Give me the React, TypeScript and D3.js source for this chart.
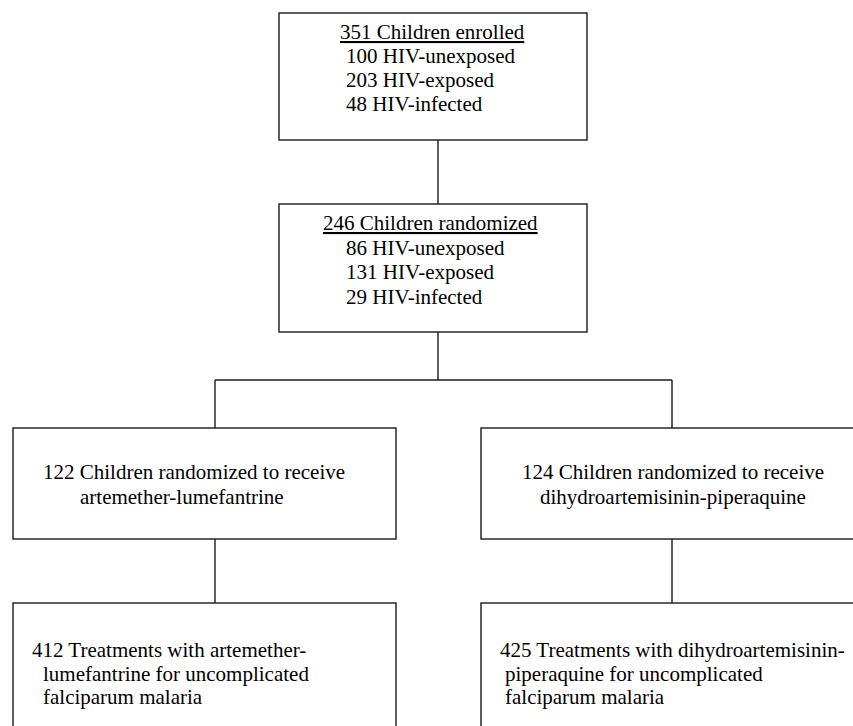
import * as d3 from 'd3';

// Flow of the trial: enrolment -> randomisation -> arms -> treatments
const ENROLLED_TITLE = '351 Children enrolled';
const ENROLLED_GROUPS = ['100 HIV-unexposed', '203 HIV-exposed', '48 HIV-infected'];

const RANDOMIZED_TITLE = '246 Children randomized';
const RANDOMIZED_GROUPS = ['86 HIV-unexposed', '131 HIV-exposed', '29 HIV-infected'];

const ARM_LABELS: string[][] = [
  ['122 Children randomized to receive', 'artemether-lumefantrine'],
  ['124 Children randomized to receive', 'dihydroartemisinin-piperaquine'],
];

const TREATMENT_LABELS: string[][] = [
  ['412 Treatments with artemether-', 'lumefantrine for uncomplicated', 'falciparum malaria'],
  ['425 Treatments with dihydroartemisinin-', 'piperaquine for uncomplicated', 'falciparum malaria'],
];

const W = 853;
const H = 726;
const FONT = "'Liberation Serif', 'Times New Roman', 'DejaVu Serif', serif";
const FS = 21;
const LINE = 24;

// rows (top, bottom) of each level of the chart
const rows = {
  enrolled: [13, 140],
  randomized: [204, 332],
  arm: [428, 539],
  treatment: [603, 780],
};
const bracketY = 380;

// column centres for the two arms
const col = d3.scalePoint<number>().domain([0, 1]).range([215, 672]);
const mainX = 438;

const armBoxes = [
  { x0: 13, x1: 396 },
  { x0: 481, x1: 900 },
];

// text insets from the left edge of each box
const armInset = [
  { first: 30, rest: 67 },
  { first: 41, rest: 59 },
];
const treatInset = [
  { first: 19, rest: 30 },
  { first: 19, rest: 24 },
];

const line = d3.line<[number, number]>();
const textStyle = { fontFamily: FONT, fontSize: FS };

function Box({ x0, x1, y0, y1 }: { x0: number; x1: number; y0: number; y1: number }) {
  return (
    <rect x={x0} y={y0} width={x1 - x0} height={y1 - y0} fill="#fff" stroke="#1a1a1a" strokeWidth={1.4} />
  );
}

function T({ x, y, children, underline }: { x: number; y: number; children: string; underline?: boolean }) {
  return (
    <text x={x} y={y} style={{ ...textStyle, textDecoration: underline ? 'underline' : 'none' }} fill="#000">
      {children}
    </text>
  );
}

export default function App() {
  const topBox = { x0: 279, x1: 587 };

  const connectors: [number, number][][] = [
    [[mainX, rows.enrolled[1]], [mainX, rows.randomized[0]]],
    [[mainX, rows.randomized[1]], [mainX, bracketY]],
    [[col(0)!, bracketY], [col(1)!, bracketY]],
    ...[0, 1].map(i => [[col(i)!, bracketY], [col(i)!, rows.arm[0]]] as [number, number][]),
    ...[0, 1].map(i => [[col(i)!, rows.arm[1]], [col(i)!, rows.treatment[0]]] as [number, number][]),
  ];

  return (
    <svg
      width={W}
      height={H}
      style={{ position: 'absolute', left: 0, top: 0, background: '#fff' }}
    >
      {/* Connectors */}
      {connectors.map((pts, i) => (
        <path key={i} d={line(pts) ?? ''} stroke="#1a1a1a" strokeWidth={1.4} fill="none" />
      ))}

      {/* Enrolled */}
      <Box x0={topBox.x0} x1={topBox.x1} y0={rows.enrolled[0]} y1={rows.enrolled[1]} />
      <T x={340} y={39} underline>{ENROLLED_TITLE}</T>
      {ENROLLED_GROUPS.map((g, i) => (
        <T key={g} x={346} y={39 + LINE * (i + 1)}>{g}</T>
      ))}

      {/* Randomized */}
      <Box x0={topBox.x0} x1={topBox.x1} y0={rows.randomized[0]} y1={rows.randomized[1]} />
      <T x={323} y={230} underline>{RANDOMIZED_TITLE}</T>
      {RANDOMIZED_GROUPS.map((g, i) => (
        <T key={g} x={346} y={230 + (LINE + 0.5) * (i + 1)}>{g}</T>
      ))}

      {/* Arms */}
      {ARM_LABELS.map((lines, i) => {
        const b = armBoxes[i];
        return (
          <g key={i}>
            <Box x0={b.x0} x1={b.x1} y0={rows.arm[0]} y1={rows.arm[1]} />
            {lines.map((t, j) => (
              <T key={j} x={b.x0 + (j === 0 ? armInset[i].first : armInset[i].rest)} y={479 + 25 * j}>{t}</T>
            ))}
          </g>
        );
      })}

      {/* Treatments */}
      {TREATMENT_LABELS.map((lines, i) => {
        const b = armBoxes[i];
        return (
          <g key={i}>
            <Box x0={b.x0} x1={b.x1} y0={rows.treatment[0]} y1={rows.treatment[1]} />
            {lines.map((t, j) => (
              <T key={j} x={b.x0 + (j === 0 ? treatInset[i].first : treatInset[i].rest)} y={657 + 23.5 * j}>{t}</T>
            ))}
          </g>
        );
      })}
    </svg>
  );
}
